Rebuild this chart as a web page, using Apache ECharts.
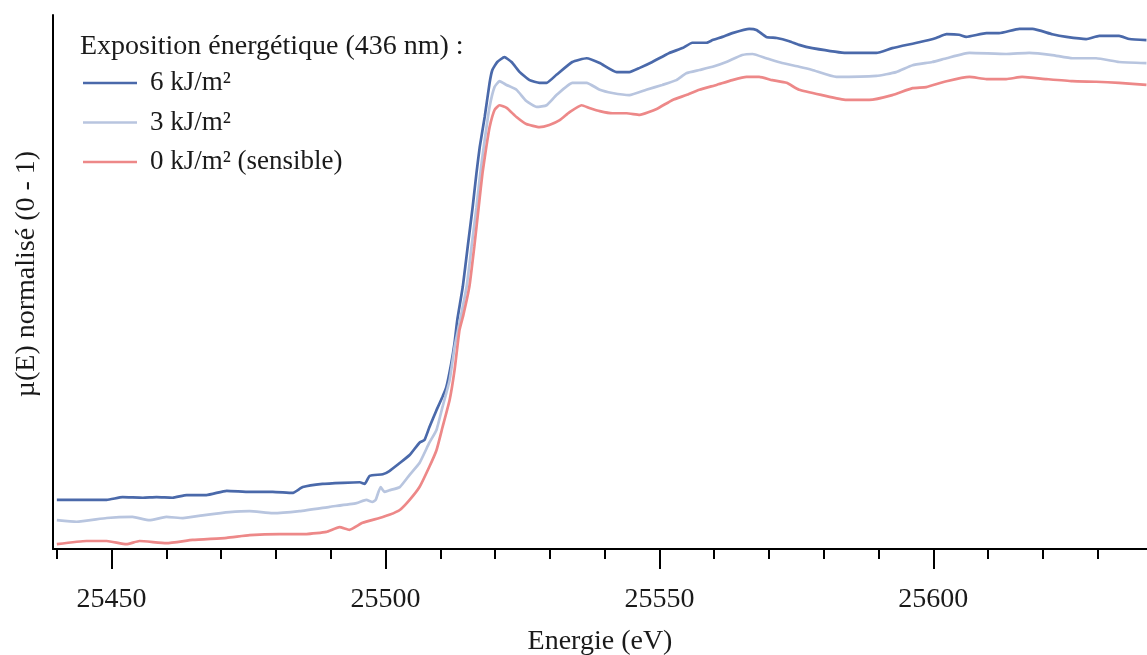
<!DOCTYPE html>
<html>
<head>
<meta charset="utf-8">
<script src="https://cdn.jsdelivr.net/npm/echarts@6/dist/echarts.min.js"></script>
<style>
html,body{margin:0;padding:0;background:#fff;}
#chart{width:1147px;height:655px;}
</style>
</head>
<body>
<div id="chart"></div>
<script>
// ---- Data ----
var seriesNames = ['6 kJ/m²', '3 kJ/m²', '0 kJ/m² (sensible)'];
var legendTitle = 'Exposition énergétique (436 nm) :';
var xAxisTitle = 'Energie (eV)';
var yAxisTitle = 'µ(E) normalisé (0 - 1)';
var majorTicks = [25450, 25500, 25550, 25600];
var minorTicks = [25440, 25450, 25460, 25470, 25480, 25490, 25500, 25510, 25520, 25530,
                  25540, 25550, 25560, 25570, 25580, 25590, 25600, 25610, 25620, 25630];

// 6 kJ/m2
var energy6 = [25440.0,25445.4,25449.1,25452.0,25455.7,25458.2,25461.1,25463.7,25467.3,25471.0,
  25475.2,25479.4,25483.0,25484.9,25488.5,25492.2,25495.3,25496.2,25497.1,25499.5,
  25500.7,25502.6,25504.4,25506.2,25507.1,25508.0,25509.3,25510.4,25511.1,25512.0,
  25512.6,25513.1,25514.1,25515.0,25515.9,25516.6,25517.2,25518.1,25519.0,25519.5,
  25520.4,25521.7,25523.0,25524.5,25526.3,25528.1,25529.4,25531.2,25534.1,25536.7,
  25539.1,25542.2,25544.5,25546.4,25548.7,25551.8,25554.2,25556.0,25558.6,25559.7,
  25561.5,25563.3,25566.4,25567.7,25569.5,25571.4,25573.7,25575.5,25577.9,25584.1,
  25589.6,25592.5,25597.4,25600.5,25602.4,25604.7,25606.0,25609.7,25612.0,25615.7,
  25618.1,25621.7,25624.3,25627.9,25630.3,25633.9,25635.8,25638.9];
var mu6 = [0.092,0.092,0.092,0.097,0.096,0.097,0.096,0.101,0.101,0.109,
  0.107,0.107,0.105,0.116,0.122,0.124,0.125,0.122,0.137,0.140,
  0.146,0.161,0.176,0.199,0.204,0.228,0.260,0.285,0.303,0.348,
  0.386,0.429,0.491,0.566,0.640,0.704,0.753,0.809,0.873,0.897,
  0.912,0.921,0.912,0.893,0.878,0.873,0.873,0.888,0.912,0.919,
  0.910,0.893,0.893,0.901,0.912,0.929,0.938,0.948,0.948,0.953,
  0.959,0.966,0.974,0.972,0.959,0.957,0.951,0.944,0.938,0.929,
  0.929,0.938,0.949,0.957,0.964,0.963,0.959,0.966,0.966,0.974,
  0.974,0.964,0.959,0.955,0.961,0.961,0.955,0.953];

// 3 kJ/m2
var energy3 = [25440.0,25443.6,25449.1,25453.8,25456.9,25460.0,25463.0,25467.3,25471.5,25475.2,
  25479.4,25484.3,25489.8,25494.7,25496.5,25497.6,25498.2,25499.1,25499.8,25500.7,
  25502.6,25504.4,25506.2,25508.0,25509.3,25510.4,25511.7,25512.6,25513.7,25514.8,
  25515.7,25516.6,25517.3,25518.1,25519.0,25519.9,25520.8,25522.1,25523.9,25525.7,
  25527.6,25529.4,25531.2,25534.1,25536.7,25539.1,25541.4,25544.5,25547.6,25550.5,
  25553.1,25554.9,25557.3,25559.7,25562.2,25565.1,25567.0,25569.5,25572.4,25575.5,
  25577.9,25582.3,25589.6,25593.2,25596.2,25599.8,25602.4,25606.6,25613.3,25617.5,
  25621.7,25625.4,25629.7,25633.9,25638.9];
var mu3 = [0.054,0.051,0.058,0.060,0.054,0.060,0.058,0.064,0.069,0.071,
  0.067,0.071,0.079,0.086,0.092,0.088,0.092,0.116,0.107,0.110,
  0.116,0.139,0.161,0.199,0.223,0.266,0.316,0.378,0.433,0.491,
  0.566,0.640,0.704,0.766,0.828,0.865,0.876,0.869,0.860,0.839,
  0.828,0.831,0.850,0.873,0.873,0.860,0.854,0.850,0.860,0.869,
  0.878,0.891,0.897,0.903,0.912,0.925,0.927,0.919,0.910,0.903,
  0.897,0.884,0.886,0.893,0.906,0.912,0.919,0.929,0.927,0.929,
  0.925,0.919,0.919,0.912,0.910];

// 0 kJ/m2 (sensible)
var energy0 = [25440.0,25445.4,25449.1,25452.7,25455.1,25460.0,25464.8,25471.0,25475.2,25480.7,
  25485.6,25489.2,25491.6,25493.4,25495.8,25498.9,25500.7,25502.6,25504.4,25506.2,
  25508.0,25509.3,25510.4,25511.7,25512.6,25513.5,25514.2,25515.3,25516.2,25517.0,
  25517.7,25518.4,25519.0,25519.9,25520.8,25522.1,25523.9,25525.7,25528.1,25529.9,
  25531.8,25533.6,25535.8,25537.2,25539.1,25541.4,25544.0,25546.4,25549.5,25552.4,
  25554.9,25557.3,25560.4,25563.3,25565.9,25568.2,25570.6,25573.2,25575.5,25579.7,
  25584.1,25588.3,25592.5,25596.2,25598.7,25602.4,25606.6,25609.7,25613.3,25616.2,
  25620.6,25625.4,25629.7,25633.9,25638.9];
var mu0 = [0.009,0.015,0.015,0.009,0.015,0.011,0.017,0.021,0.026,0.028,
  0.028,0.032,0.041,0.036,0.049,0.058,0.064,0.073,0.092,0.116,
  0.154,0.185,0.228,0.279,0.335,0.410,0.438,0.491,0.566,0.640,
  0.704,0.753,0.790,0.822,0.831,0.826,0.809,0.796,0.790,0.794,
  0.803,0.818,0.831,0.826,0.820,0.816,0.816,0.813,0.824,0.841,
  0.850,0.860,0.869,0.878,0.884,0.884,0.878,0.873,0.860,0.850,
  0.841,0.841,0.850,0.863,0.865,0.876,0.884,0.880,0.880,0.884,
  0.880,0.876,0.875,0.873,0.869];

var colors = ['#4a69aa', '#b8c5df', '#ed8888'];

function pairs(xs, ys) {
  var out = [];
  for (var i = 0; i < xs.length; i++) out.push([xs[i], ys[i]]);
  return out;
}

var FONT = "'Liberation Serif', 'DejaVu Serif', serif";
var TXT = '#1a1a1a';

var chart = echarts.init(document.getElementById('chart'), null, {renderer: 'canvas'});
var option = {
  backgroundColor: '#ffffff',
  animation: false,
  title: {
    text: legendTitle,
    left: 75,
    top: 28,
    textStyle: {fontFamily: FONT, fontSize: 28, fontWeight: 'normal', color: TXT}
  },
  legend: {
    orient: 'vertical',
    left: 78,
    top: 63,
    icon: 'rect',
    itemWidth: 54,
    itemHeight: 2.5,
    itemGap: 9.5,
    data: seriesNames,
    textStyle: {fontFamily: FONT, fontSize: 27, color: TXT, lineHeight: 28, padding: [2, 0, 0, 8]}
  },
  grid: {left: 53, right: 0, top: 15, bottom: 106, containLabel: false, outerBoundsMode: 'none'},
  xAxis: [{
    type: 'value',
    min: 25439.3,
    max: 25639,
    position: 'bottom',
    name: xAxisTitle,
    nameLocation: 'middle',
    nameGap: 79,
    nameTextStyle: {fontFamily: FONT, fontSize: 28, color: TXT},
    axisLine: {show: true, lineStyle: {color: '#000', width: 2}},
    axisTick: {show: true, customValues: majorTicks, length: 20, lineStyle: {color: '#000', width: 2}},
    axisLabel: {show: true, customValues: majorTicks, margin: 37, fontFamily: FONT, fontSize: 28, color: TXT,
      formatter: function (v) { return String(Math.round(v)); }},
    splitLine: {show: false}
  }, {
    type: 'value',
    min: 25439.3,
    max: 25639,
    position: 'bottom',
    axisLine: {show: false},
    axisTick: {show: true, customValues: minorTicks, length: 10, lineStyle: {color: '#000', width: 2}},
    axisLabel: {show: false},
    splitLine: {show: false}
  }],
  yAxis: {
    type: 'value',
    min: 0,
    max: 1,
    name: yAxisTitle,
    nameLocation: 'middle',
    nameGap: 12,
    nameTextStyle: {fontFamily: FONT, fontSize: 28, color: TXT, padding: [0, 0, 0, 16]},
    axisLine: {show: true, lineStyle: {color: '#000', width: 2}},
    axisTick: {show: false},
    axisLabel: {show: false},
    splitLine: {show: false}
  },
  series: [
    {name: seriesNames[0], type: 'line', xAxisIndex: 0, data: pairs(energy6, mu6), showSymbol: false, symbol: 'none',
     smooth: 0.15, lineStyle: {color: colors[0], width: 2.7}, itemStyle: {color: colors[0]}},
    {name: seriesNames[1], type: 'line', xAxisIndex: 0, data: pairs(energy3, mu3), showSymbol: false, symbol: 'none',
     smooth: 0.15, lineStyle: {color: colors[1], width: 2.7}, itemStyle: {color: colors[1]}},
    {name: seriesNames[2], type: 'line', xAxisIndex: 0, data: pairs(energy0, mu0), showSymbol: false, symbol: 'none',
     smooth: 0.15, lineStyle: {color: colors[2], width: 2.7}, itemStyle: {color: colors[2]}}
  ]
};
chart.setOption(option);
</script>
</body>
</html>
